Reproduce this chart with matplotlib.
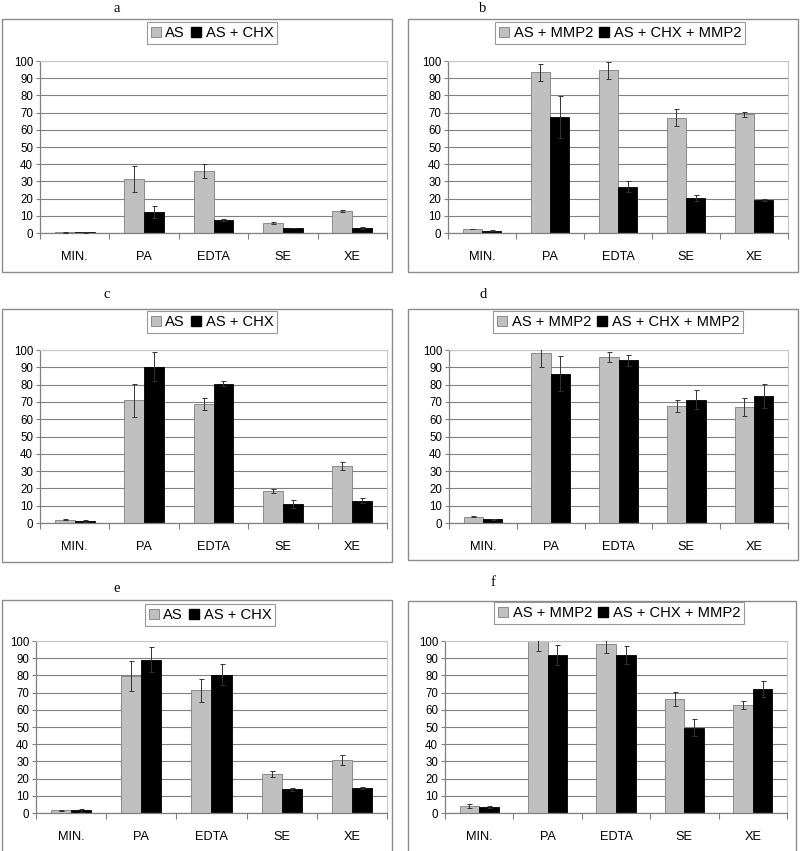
import matplotlib
matplotlib.use("Agg")
import matplotlib.pyplot as plt
from matplotlib.patches import Rectangle, Patch
import numpy as np

categories = ['MIN.', 'PA', 'EDTA', 'SE', 'XE']
yticks = [0, 10, 20, 30, 40, 50, 60, 70, 80, 90, 100]

a_as = [0.3, 31.3, 36.0, 5.8, 12.8]
a_as_err = [0.1, 7.6, 3.9, 0.5, 0.3]
a_chx = [0.3, 12.2, 7.5, 2.9, 2.9]
a_chx_err = [0.1, 3.5, 0.4, 0.2, 0.3]

b_as = [2.3, 93.4, 94.6, 67.0, 69.0]
b_as_err = [0.2, 4.8, 4.8, 5.0, 1.6]
b_chx = [1.4, 67.7, 27.0, 20.3, 19.1]
b_chx_err = [0.2, 12.2, 3.3, 1.7, 0.6]

c_as = [1.9, 71.0, 68.8, 18.5, 33.0]
c_as_err = [0.4, 9.5, 3.2, 1.3, 2.1]
c_chx = [1.2, 90.4, 80.6, 11.0, 12.9]
c_chx_err = [0.4, 8.4, 1.5, 2.3, 1.5]

d_as = [3.6, 98.0, 95.8, 67.7, 67.1]
d_as_err = [0.2, 7.8, 2.8, 3.4, 5.3]
d_chx = [2.3, 86.3, 94.0, 71.3, 73.3]
d_chx_err = [0.3, 10.0, 3.3, 5.6, 6.9]

e_as = [1.5, 79.7, 71.4, 22.6, 30.8]
e_as_err = [0.5, 8.8, 6.7, 1.8, 3.0]
e_chx = [1.5, 89.2, 80.5, 13.7, 14.5]
e_chx_err = [0.7, 7.3, 6.0, 1.0, 0.7]

f_as = [4.0, 100.0, 98.3, 66.2, 62.7]
f_as_err = [1.0, 5.6, 5.5, 4.0, 2.5]
f_chx = [3.7, 91.7, 91.9, 49.5, 72.0]
f_chx_err = [0.6, 5.8, 5.2, 5.0, 4.6]

legend_left = ['AS', 'AS + CHX']
legend_right = ['AS + MMP2', 'AS + CHX + MMP2']

W, H = 800, 851
fig = plt.figure(figsize=(W / 100, H / 100), dpi=100)
fig.patch.set_facecolor('white')

SANS = ['Liberation Sans', 'DejaVu Sans']
SERIF = ['Liberation Serif', 'DejaVu Serif']

GRAY = '#c0c0c0'
EDGE = '#7f7f7f'


def fx(x):
    return x / W


def fy(y):
    return 1 - y / H


panels = [
    ('a', a_as, a_as_err, a_chx, a_chx_err, legend_left, (40, 387, 61, 233), (2, 392, 19, 272), (212, 33), (117, 8)),
    ('b', b_as, b_as_err, b_chx, b_chx_err, legend_right, (448, 788, 61, 233), (408, 798, 19, 272), (620, 33), (483, 8)),
    ('c', c_as, c_as_err, c_chx, c_chx_err, legend_left, (40, 387, 350, 523), (2, 392, 309, 562), (212, 322), (107, 295)),
    ('d', d_as, d_as_err, d_chx, d_chx_err, legend_right, (449, 788, 350, 523), (408, 798, 309, 560), (618, 322), (483, 295)),
    ('e', e_as, e_as_err, e_chx, e_chx_err, legend_left, (36, 387, 641, 813), (2, 392, 600, 860), (210, 615), (117, 589)),
    ('f', f_as, f_as_err, f_chx, f_chx_err, legend_right, (445, 787, 641, 813), (408, 796, 601, 860), (619, 613), (493, 582)),
]

x = np.arange(len(categories))
bw = 0.286

for (letter, s1, e1, s2, e2, labels, axpx, boxpx, legc, letpos) in panels:
    bx0, bx1, by0, by1 = boxpx
    fig.patches.append(Rectangle((fx(bx0), fy(by1)), fx(bx1 - bx0), (by1 - by0) / H,
                                 transform=fig.transFigure, fill=False,
                                 edgecolor='#8c8c8c', linewidth=1.0, zorder=0))
    ax0, ax1, ayt, ayb = axpx
    ax = fig.add_axes([fx(ax0), fy(ayb), fx(ax1 - ax0), (ayb - ayt) / H])
    ax.set_xlim(-0.5, len(categories) - 0.5)
    ax.set_ylim(0, 100)
    ax.set_yticks(yticks)
    ax.set_yticklabels([str(t) for t in yticks], fontsize=8.3, family=SANS)
    ax.yaxis.grid(True, color='#808080', linewidth=0.8)
    ax.set_axisbelow(True)
    ax.bar(x - bw / 2, s1, bw, color=GRAY, edgecolor=EDGE, linewidth=0.6, zorder=2)
    ax.bar(x + bw / 2, s2, bw, color='black', edgecolor='black', linewidth=0.6, zorder=2)
    ax.errorbar(x - bw / 2, s1, yerr=e1, fmt='none', ecolor='#333333', elinewidth=0.7,
                capsize=1.8, capthick=0.7, zorder=3)
    ax.errorbar(x + bw / 2, s2, yerr=e2, fmt='none', ecolor='#333333', elinewidth=0.7,
                capsize=1.8, capthick=0.7, zorder=3)
    ax.set_xticks(np.arange(-0.5, len(categories), 1.0))
    ax.set_xticklabels([])
    ax.set_xticks(x, minor=True)
    ax.set_xticklabels(categories, minor=True, fontsize=9.2, family=SANS)
    ax.tick_params(axis='x', which='major', length=4, color='#808080', direction='out')
    ax.tick_params(axis='x', which='minor', length=0, pad=13)
    ax.tick_params(axis='y', length=3, color='#808080', pad=2)
    for sp in ['left', 'bottom']:
        ax.spines[sp].set_color('#808080')
        ax.spines[sp].set_linewidth(0.9)
    for sp in ['top', 'right']:
        ax.spines[sp].set_color('#c8c8c8')
        ax.spines[sp].set_linewidth(0.8)

    handles = [Patch(facecolor=GRAY, edgecolor=EDGE, linewidth=0.6),
               Patch(facecolor='black', edgecolor='black')]
    leg = fig.legend(handles, labels, loc='center', ncol=2,
                     bbox_to_anchor=(fx(legc[0]), fy(legc[1])),
                     prop={'family': SANS, 'size': 10.6},
                     frameon=True, fancybox=False, edgecolor='#808080',
                     handlelength=0.7, handleheight=0.7, handletextpad=0.3,
                     columnspacing=0.4, borderpad=0.25, borderaxespad=0)
    leg.get_frame().set_linewidth(0.8)

    fig.text(fx(letpos[0]), fy(letpos[1]), letter, ha='center', va='center',
             fontsize=10.5, family=SERIF)

fig.savefig('out.png', dpi=100)
